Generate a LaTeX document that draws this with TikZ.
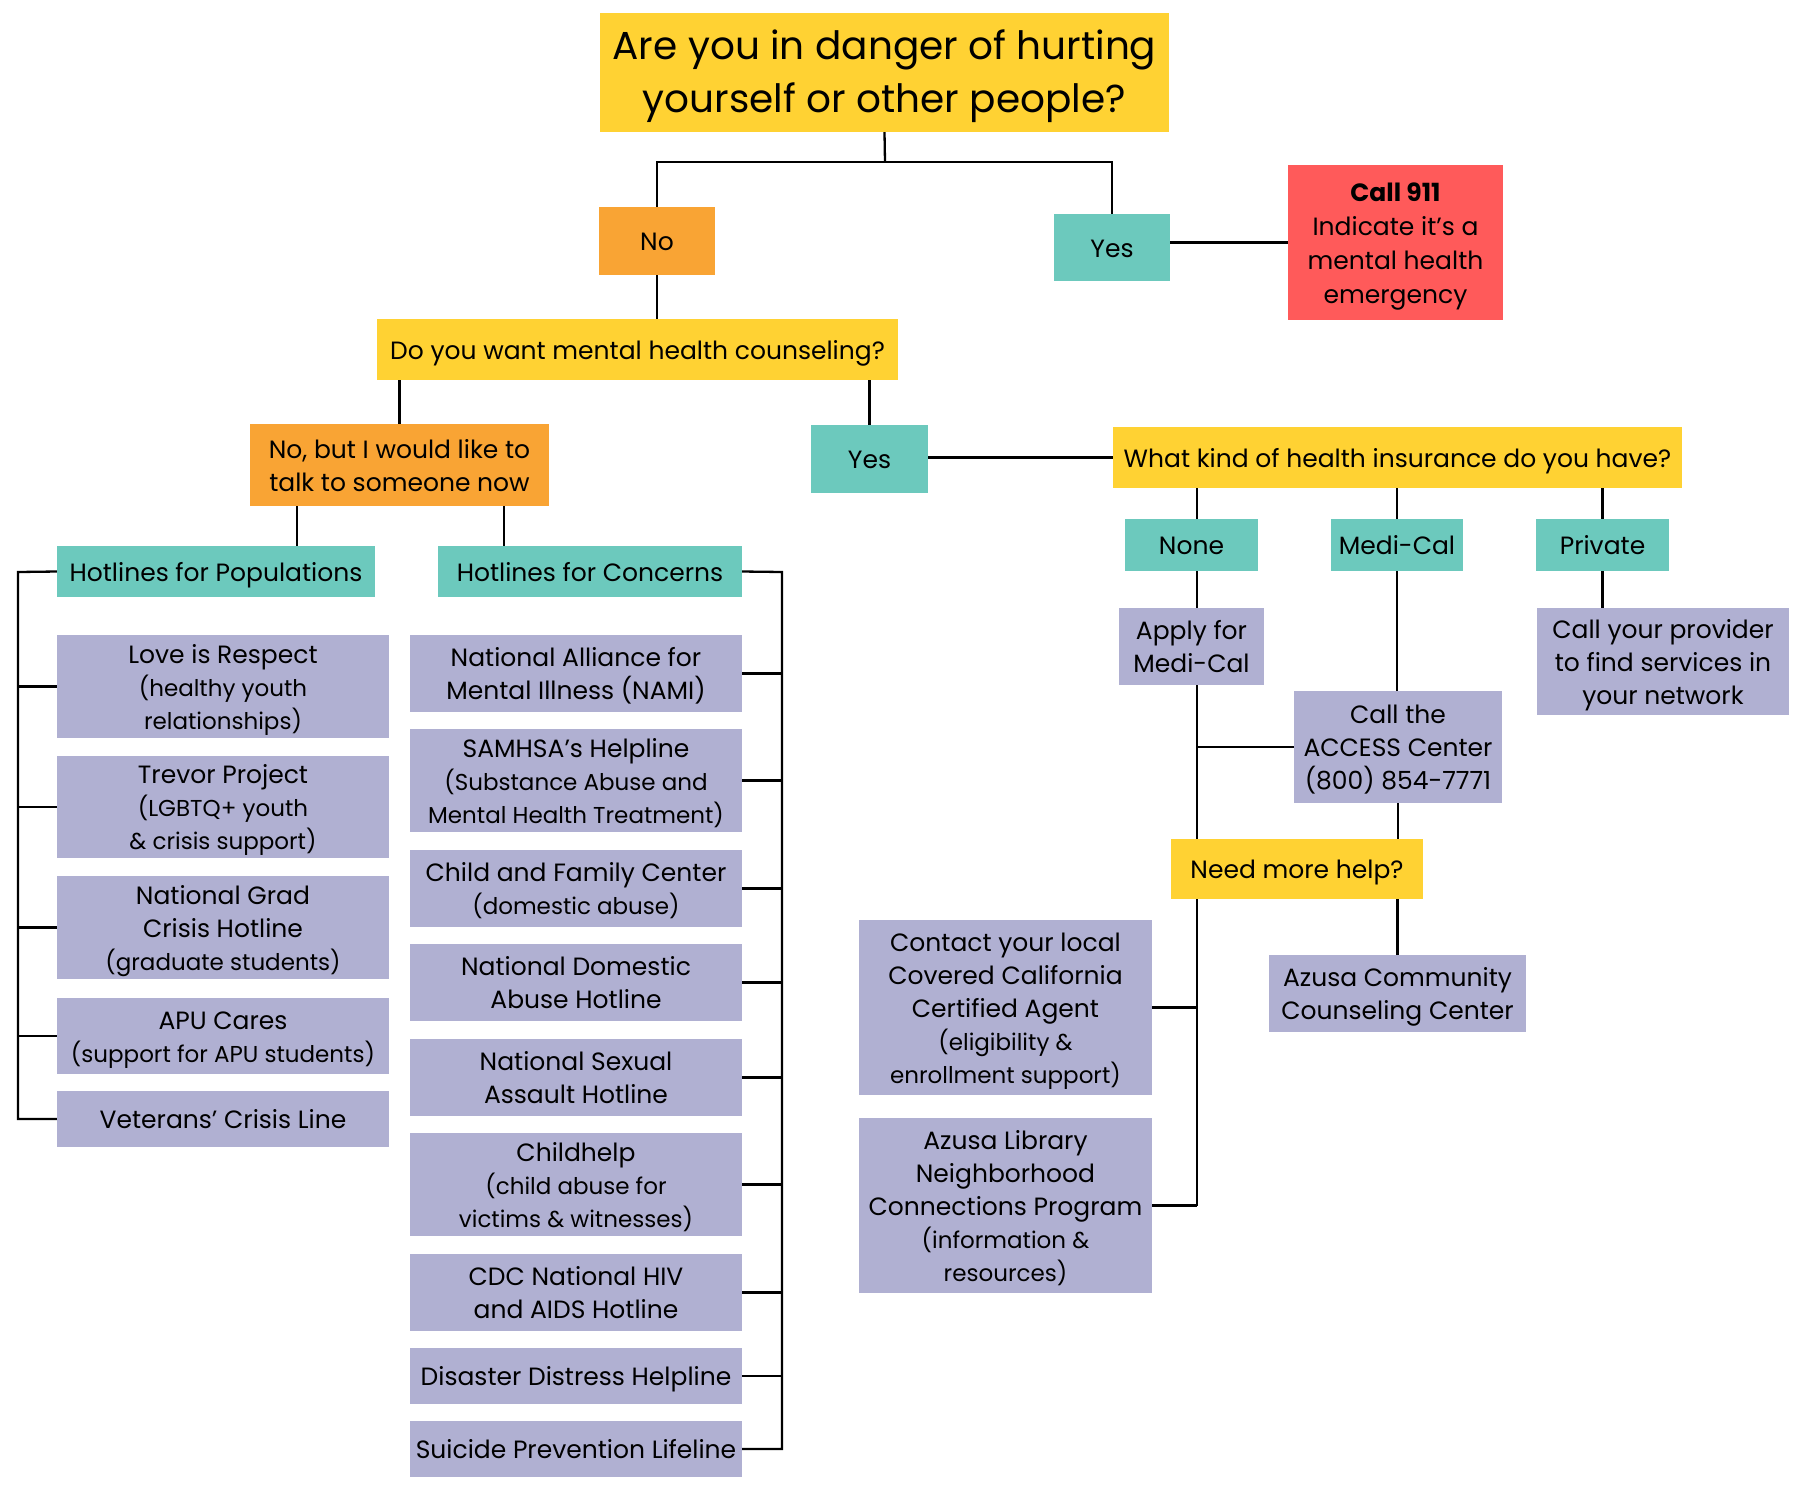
\documentclass[tikz,border=0pt]{standalone}
\usepackage{fontspec}
\setmainfont{Poppins}
\definecolor{cy}{HTML}{FFD233}
\definecolor{co}{HTML}{F9A434}
\definecolor{ct}{HTML}{6CC9BD}
\definecolor{cr}{HTML}{FF5A5A}
\definecolor{cl}{HTML}{B0B0D2}
\newcommand\subt[1]{{\fontsize{23}{31}\selectfont #1}}
\newcommand\T{\rule{0pt}{27pt}}
\newcommand\B{\rule[-7.5pt]{0pt}{7.5pt}}
\tikzset{
  bx/.style={rectangle, inner sep=0pt, align=center, font=\fontsize{25}{33}\selectfont},
  ybox/.style={bx, fill=cy},
  obox/.style={bx, fill=co},
  tbox/.style={bx, fill=ct},
  rbox/.style={bx, fill=cr},
  lbox/.style={bx, fill=cl},
  wh/.style 2 args={minimum width=#1pt, minimum height=#2pt},
  ln/.style={draw=black, line width=2.3pt},
}
\begin{document}
\begin{tikzpicture}[x=1pt,y=-1pt]
\useasboundingbox (0,0) rectangle (1800,1500);
\fill[white] (0,0) rectangle (1800,1500);
% top
\node[ybox, wh={569}{119}, font=\fontsize{39}{53}\selectfont] (q1) at (884.5,72.5) {\rule{0pt}{38pt}Are you in danger of hurting\\yourself or other people?\rule[-10.4pt]{0pt}{10.4pt}};
\node[obox, wh={116}{68}] (no1) at (657,241) {\T No\B};
\node[tbox, wh={116}{67}] (yes1) at (1112,247.5) {\T Yes\B};
\node[rbox, wh={215}{155}, font=\fontsize{25}{34}\selectfont] (call) at (1395.5,242.5) {\T\textbf{Call 911}\\Indicate it’s a\\mental health\\emergency\B};
\node[ybox, wh={521}{61}] (q2) at (637.5,349.5) {\T Do you want mental health counseling?\B};
\node[obox, wh={299}{82}] (nobut) at (399.5,465) {\T No, but I would like to\\talk to someone now\B};
\node[tbox, wh={117}{68}] (yes2) at (869.5,459) {\T Yes\B};
\node[ybox, wh={569}{61}] (q3) at (1397.5,457.5) {\T What kind of health insurance do you have?\B};
\node[tbox, wh={133}{52}] (none) at (1191.5,545) {\T None\B};
\node[tbox, wh={132}{52}] (medi) at (1397,545) {\T Medi-Cal\B};
\node[tbox, wh={133}{52}] (priv) at (1602.5,545) {\T Private\B};
\node[lbox, wh={145}{77}] (apply) at (1191.5,646.5) {\T Apply for\\Medi-Cal\B};
\node[lbox, wh={252}{107}] (prov) at (1663,661.5) {\T Call your provider\\to find services in\\your network\B};
\node[lbox, wh={208}{112}] (access) at (1398,747) {\T Call the\\ACCESS Center\\(800) 854-7771\B};
\node[ybox, wh={252}{60}] (help) at (1297,869) {\T Need more help?\B};
\node[lbox, wh={293}{175}] (contact) at (1005.5,1007.5) {\T Contact your local\\Covered California\\Certified Agent\\\subt{(eligibility \&}\\\subt{enrollment support)}\B};
\node[lbox, wh={293}{175}] (library) at (1005.5,1205.5) {\T Azusa Library\\Neighborhood\\Connections Program\\\subt{(information \&}\\\subt{resources)}\B};
\node[lbox, wh={257}{77}] (comm) at (1397.5,993.5) {\T Azusa Community\\Counseling Center\B};
% hotlines
\node[tbox, wh={318}{51}] (hfp) at (216,571.5) {\T Hotlines for Populations\B};
\node[tbox, wh={304}{51}] (hfc) at (590,571.5) {\T Hotlines for Concerns\B};
\node[lbox, wh={332}{103}] (love) at (223,686.5) {\T Love is Respect\\\subt{(healthy youth}\\\subt{relationships)}\B};
\node[lbox, wh={332}{102}] (trevor) at (223,807) {\T Trevor Project\\\subt{(LGBTQ+ youth}\\\subt{\& crisis support)}\B};
\node[lbox, wh={332}{103}] (grad) at (223,927.5) {\T National Grad\\Crisis Hotline\\\subt{(graduate students)}\B};
\node[lbox, wh={332}{76}] (apu) at (223,1036) {\T APU Cares\\\subt{(support for APU students)}\B};
\node[lbox, wh={332}{56}] (vets) at (223,1119) {\T Veterans’ Crisis Line\B};
\node[lbox, wh={332}{77}] (nami) at (576,673.5) {\T National Alliance for\\Mental Illness (NAMI)\B};
\node[lbox, wh={332}{103}] (samhsa) at (576,780.5) {\T SAMHSA’s Helpline\\\subt{(Substance Abuse and}\\\subt{Mental Health Treatment)}\B};
\node[lbox, wh={332}{77}] (cfc) at (576,888.5) {\T Child and Family Center\\\subt{(domestic abuse)}\B};
\node[lbox, wh={332}{77}] (ndom) at (576,982.5) {\T National Domestic\\Abuse Hotline\B};
\node[lbox, wh={332}{77}] (nsex) at (576,1077.5) {\T National Sexual\\Assault Hotline\B};
\node[lbox, wh={332}{103}] (childh) at (576,1184.5) {\T Childhelp\\\subt{(child abuse for}\\\subt{victims \& witnesses)}\B};
\node[lbox, wh={332}{77}] (cdc) at (576,1292.5) {\T CDC National HIV\\and AIDS Hotline\B};
\node[lbox, wh={332}{56}] (dis) at (576,1376) {\T Disaster Distress Helpline\B};
\node[lbox, wh={332}{56}] (sui) at (576,1449) {\T Suicide Prevention Lifeline\B};
% junction coordinates
\coordinate (j1) at (885,162);
\coordinate (nA) at (1197,747);
\coordinate (nB) at (1197,1007.5);
\coordinate (nC) at (1197,1205.5);
\coordinate (pA) at (297,546);
\coordinate (pB) at (504,546);
\coordinate (lb) at (18,572);
\coordinate (rb) at (782,572);
% connectors
\draw[ln] (q1.south) -- (j1);
\draw[ln] (no1.north) |- (j1) -| (yes1.north);
\draw[ln] (yes1.east |- call.west) -- (call.west);
\draw[ln] (no1.south) -- (no1.south |- q2.north);
\draw[ln] (nobut.north) -- (nobut.north |- q2.south);
\draw[ln] (yes2.north) -- (yes2.north |- q2.south);
\draw[ln] (yes2.east |- q3.west) -- (q3.west);
\draw[ln] (q3.south -| nA) -- (none.north -| nA);
\draw[ln] (none.south -| nA) -- (apply.north -| nA);
\draw[ln] (apply.south -| nA) -- (help.north -| nA);
\draw[ln] (nA) -- (access.west);
\draw[ln] (help.south -| nA) -- (nC);
\draw[ln] (contact.east) -- (nB);
\draw[ln] (library.east) -- (nC);
\draw[ln] (q3.south -| medi.north) -- (medi.north);
\draw[ln] (medi.south) -- (medi.south |- access.north);
\draw[ln] (access.south) -- (access.south |- help.north);
\draw[ln] (comm.north) -- (comm.north |- help.south);
\draw[ln] (q3.south -| priv.north) -- (priv.north);
\draw[ln] (priv.south) -- (priv.south |- prov.north);
\draw[ln] (pA |- nobut.south) -- (pA);
\draw[ln] (pB |- nobut.south) -- (pB);
\draw[ln] (hfp.west) -- (lb) -- (lb |- vets.west) -- (vets.west);
\foreach \n in {love,trevor,grad,apu} \draw[ln] (\n.west) -- (\n.west -| lb);
\draw[ln] (hfc.east) -- (rb) -- (rb |- sui.east) -- (sui.east);
\foreach \n in {nami,samhsa,cfc,ndom,nsex,childh,cdc,dis} \draw[ln] (\n.east) -- (\n.east -| rb);
\end{tikzpicture}
\end{document}
